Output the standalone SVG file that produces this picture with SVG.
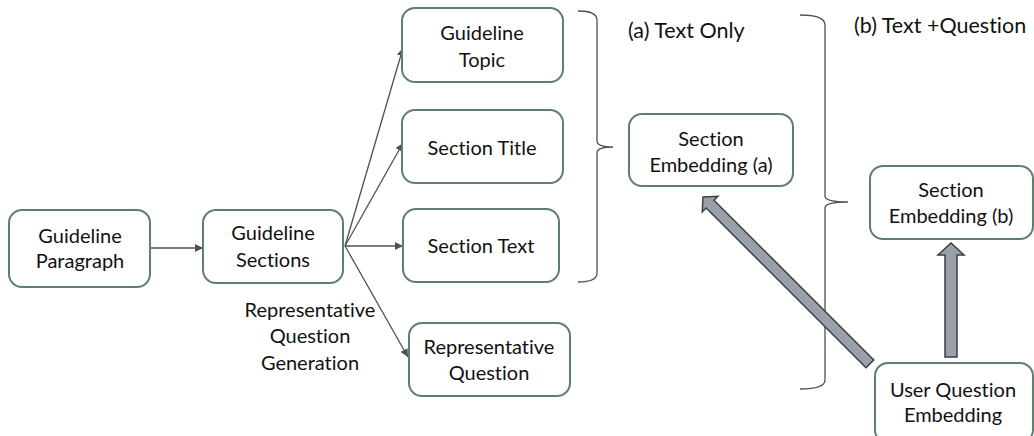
<svg xmlns="http://www.w3.org/2000/svg" width="1034" height="436" viewBox="0 0 1034 436">
<style>
.box{fill:#fff;stroke:#5f7f6f;stroke-width:2}
.t{font-family:Lato,"Open Sans","DejaVu Sans",sans-serif;font-size:20px;fill:#111;text-anchor:middle;font-variant-ligatures:none}
.l{font-family:Lato,"Open Sans","DejaVu Sans",sans-serif;font-size:21.5px;fill:#111;font-variant-ligatures:none}
.c{fill:none;stroke:#4a5257;stroke-width:1.3}
.br{fill:none;stroke:#4a5257;stroke-width:1.3}
.blk{fill:#9aa0a8;stroke:#3a3f44;stroke-width:1.5;stroke-linejoin:miter}
</style>
<defs>
<marker id="ah" viewBox="0 0 10 10" refX="10" refY="5" markerWidth="8" markerHeight="8" markerUnits="userSpaceOnUse" orient="auto">
<path d="M0,0 L10,5 L0,10 z" fill="#4a5257"/>
</marker>
</defs>
<rect width="1034" height="436" fill="#fff"/>
<g id="connectors">
<line class="c" x1="150" y1="248" x2="203" y2="248" marker-end="url(#ah)"/>
<line class="c" x1="345" y1="246" x2="403" y2="48" marker-end="url(#ah)"/>
<line class="c" x1="345" y1="246" x2="403" y2="143" marker-end="url(#ah)"/>
<line class="c" x1="345" y1="246" x2="403" y2="246" marker-end="url(#ah)"/>
<line class="c" x1="345" y1="246" x2="408" y2="357" marker-end="url(#ah)"/>
<path class="br" d="M578,11 Q597,11 597,20 L597,141 Q597,147 613,147 Q597,147 597,153 L597,273 Q597,282 578,282"/>
<path class="br" d="M800,15 Q825,15 825,25 L825,196 Q825,202 848,202 Q825,202 825,208 L825,380 Q825,389 800,389"/>
<path class="blk" d="M945,357 L945,255 L938,255 L951,243 L964,255 L957,255 L957,357 Z"/>
<path class="blk" transform="translate(703,197) rotate(45)" d="M0,0 L10,-11 L10,-5.5 L236,-5.5 L236,5.5 L10,5.5 L10,11 Z"/>
</g>
<g id="guideline-paragraph">
<rect class="box" x="9" y="210" width="141" height="77" rx="13"/>
<text class="t" x="80" y="243">Guideline</text>
<text class="t" x="80" y="268">Paragraph</text>
</g>
<g id="guideline-sections">
<rect class="box" x="203" y="210" width="140" height="73" rx="13"/>
<text class="t" x="273" y="240">Guideline</text>
<text class="t" x="273" y="267">Sections</text>
</g>
<g id="guideline-topic">
<rect class="box" x="402" y="8" width="161" height="74" rx="13"/>
<text class="t" x="482" y="40">Guideline</text>
<text class="t" x="482" y="67">Topic</text>
</g>
<g id="section-title">
<rect class="box" x="402" y="110" width="161" height="73" rx="13"/>
<text class="t" x="482" y="155">Section Title</text>
</g>
<g id="section-text">
<rect class="box" x="403" y="209" width="156" height="73" rx="13"/>
<text class="t" x="481" y="253">Section Text</text>
</g>
<g id="representative-question">
<rect class="box" x="409" y="323" width="161" height="73" rx="13"/>
<text class="t" x="489" y="354">Representative</text>
<text class="t" x="489" y="380">Question</text>
</g>
<g id="rqg-label">
<text class="t" x="310" y="317">Representative</text>
<text class="t" x="310" y="343">Question</text>
<text class="t" x="310" y="370">Generation</text>
</g>
<g id="label-a">
<text class="l" x="628" y="38">(a) Text Only</text>
</g>
<g id="section-embedding-a">
<rect class="box" x="629" y="114" width="164" height="72" rx="13"/>
<text class="t" x="711" y="146">Section</text>
<text class="t" x="711" y="172">Embedding (a)</text>
</g>
<g id="label-b">
<text class="l" x="854" y="33">(b) Text +Question</text>
</g>
<g id="section-embedding-b">
<rect class="box" x="870" y="166" width="163" height="73" rx="13"/>
<text class="t" x="951" y="197">Section</text>
<text class="t" x="951" y="223">Embedding (b)</text>
</g>
<g id="user-question-embedding">
<rect class="box" x="875" y="363" width="158" height="80" rx="13"/>
<text class="t" x="953" y="397">User Question</text>
<text class="t" x="953" y="422">Embedding</text>
</g>
</svg>
